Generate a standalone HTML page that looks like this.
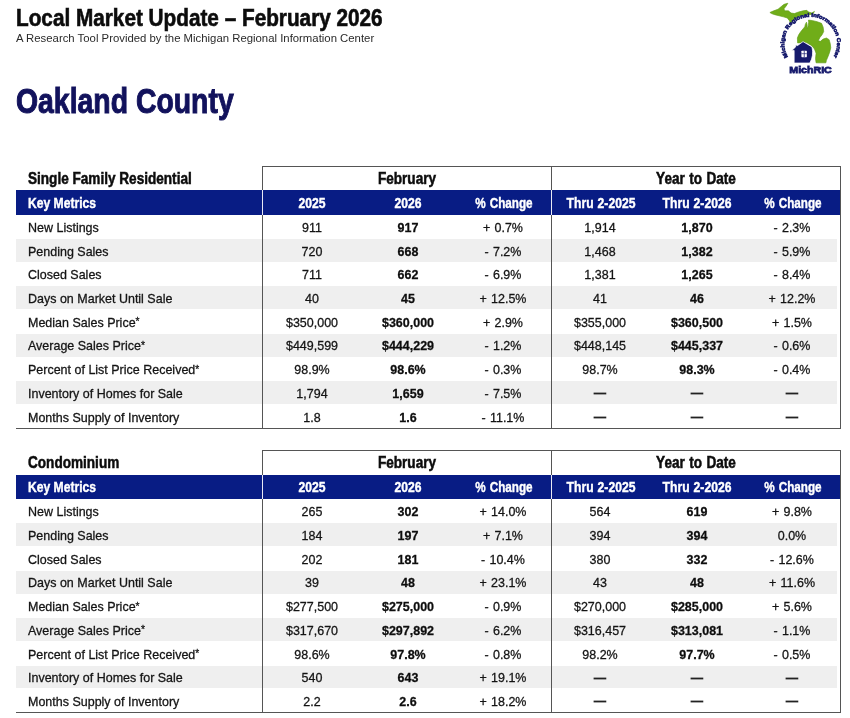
<!DOCTYPE html>
<html lang="en">
<head>
<meta charset="utf-8">
<title>Local Market Update – February 2026 – Oakland County</title>
<style>
html,body{margin:0;padding:0;background:#fff;}
body{width:850px;height:718px;position:relative;overflow:hidden;font-family:"Liberation Sans",Arial,Helvetica,sans-serif;color:#1a1a1a;}
.t{position:absolute;white-space:nowrap;line-height:1;}
.l{transform-origin:0 50%;}
.c{width:200px;text-align:center;transform-origin:50% 50%;word-spacing:.8px;}
.h1{font-weight:bold;font-size:23px;color:#0c0c0c;left:16.3px;top:7.4px;transform:scaleX(.902);-webkit-text-stroke:.6px #0c0c0c;}
.sub{font-size:11.5px;color:#2a2a2a;left:16px;top:32.6px;transform:scaleX(.987);}
.h2{font-weight:bold;font-size:35.6px;color:#12125c;left:16.4px;top:84.1px;transform:scaleX(.798);-webkit-text-stroke:1px #12125c;}
.tt{font-weight:bold;font-size:17.2px;color:#0c0c0c;transform:scaleX(.79);-webkit-text-stroke:.55px #0c0c0c;}
.th{font-weight:bold;font-size:14.2px;color:#fff;transform:scaleX(.855);-webkit-text-stroke:.4px #fff;}
.td{font-size:13.5px;color:#141414;transform:scaleX(.925);-webkit-text-stroke:.3px #141414;}
.b{font-weight:bold;color:#0c0c0c;}
.pc{transform:scaleX(.825);}
.as{font-size:11px;position:relative;top:-1.5px;}
.ds{-webkit-text-stroke:.9px #222;color:#222;transform:scaleX(.88);}
.gr{position:absolute;left:15.5px;width:821.5px;background:#efefef;}
.bl{position:absolute;left:15.5px;width:825px;height:24.3px;background:#081c84;}
.hl{position:absolute;height:1px;background:#555555;}
.vl{position:absolute;width:1px;background:#555555;}
.vw{position:absolute;width:1px;height:24.3px;background:#e8e8f4;}
.logo{position:absolute;left:765px;top:0;width:85px;height:80px;}
</style>
</head>
<body>
<div class="t h1 l">Local Market Update – February 2026</div>
<div class="t sub l">A Research Tool Provided by the Michigan Regional Information Center</div>
<div class="t h2 l">Oakland County</div>
<svg viewBox="0 0 736 718" width="80" height="78" style="position:absolute;left:765px;top:0;width:80px;height:78.04px;overflow:visible">
<defs><path id="arc" d="M 211.7 523.2 A 243 243 0 1 1 628.3 523.2" fill="none"/></defs>
<g fill="#70ad19" stroke="#5f9c16" stroke-width="6" stroke-linejoin="round">
<path d="M45 115 L80 100 L120 85 L150 60 L175 40 L210 30 L195 55 L175 80 L180 100 L215 100 L240 120 L270 125 L310 110 L350 100 L385 95 L400 110 L430 120 L455 105 L440 130 L400 135 L360 140 L320 150 L290 160 L270 180 L250 200 L235 215 L225 190 L205 165 L170 155 L130 145 L90 135 L60 125 Z"/>
<path d="M400 185 L440 190 L480 200 L520 215 L535 250 L540 290 L525 320 L505 345 L490 375 L510 380 L535 360 L565 350 L590 365 L600 400 L605 440 L595 480 L580 520 L565 555 L560 578 L470 578 L465 540 L470 490 L455 450 L430 420 L380 390 L300 395 L298 350 L310 320 L330 290 L355 260 L366 246 L372 222 L382 204 L388 232 L384 264 L398 238 L402 204 Z"/>
</g>
<path d="M246 464 L282 432 L282 416 L298 416 L298 420 L350 383 L432 432 Q452 510 412 580 L268 580 L268 464 Z" fill="#161a6c" stroke="#ffffff" stroke-width="7" stroke-linejoin="round"/>
<rect x="335" y="466" width="50" height="60" fill="#ffffff" rx="5"/>
<rect x="357" y="466" width="7" height="60" fill="#161a6c"/>
<rect x="335" y="492" width="50" height="6" fill="#161a6c"/>
<text font-family="'Liberation Sans',Arial,sans-serif" font-weight="bold" font-size="49" fill="#161a6c" stroke="#161a6c" stroke-width="5.5"><textPath href="#arc" textLength="1026" lengthAdjust="spacingAndGlyphs">Michigan Regional Information Center</textPath></text>
<text x="224" y="668" font-family="'Liberation Sans',Arial,sans-serif" font-weight="bold" font-size="88" fill="#161a6c" stroke="#161a6c" stroke-width="7" textLength="390" lengthAdjust="spacingAndGlyphs">MichRIC</text>
</svg>

<div class="gr" style="top:238.82px;height:22.82px"></div>
<div class="gr" style="top:286.26px;height:22.82px"></div>
<div class="gr" style="top:333.70px;height:22.82px"></div>
<div class="gr" style="top:381.14px;height:22.82px"></div>
<div class="bl" style="top:190.30px"></div>
<div class="hl" style="top:165.50px;left:262px;width:578px"></div>
<div class="hl" style="top:427.58px;left:15.5px;width:824.5px"></div>
<div class="vl" style="left:261.50px;top:165.50px;height:263.08px"></div>
<div class="vl" style="left:550.50px;top:165.50px;height:263.08px"></div>
<div class="vl" style="left:839.50px;top:165.50px;height:263.08px"></div>
<div class="vw" style="left:261.50px;top:190.30px"></div>
<div class="vw" style="left:550.50px;top:190.30px"></div>
<div class="t tt l" style="top:169.60px;left:28px">Single Family Residential</div>
<div class="t tt c" style="top:169.60px;left:306.50px">February</div>
<div class="t tt c" style="top:169.60px;left:595.50px">Year to Date</div>
<div class="t th l" style="top:195.90px;left:28px">Key Metrics</div>
<div class="t th c" style="top:195.90px;left:212.00px">2025</div>
<div class="t th c" style="top:195.90px;left:308.00px">2026</div>
<div class="t th c pc" style="top:195.90px;left:403.60px">% Change</div>
<div class="t th c" style="top:195.90px;left:500.60px">Thru 2-2025</div>
<div class="t th c" style="top:195.90px;left:596.70px">Thru 2-2026</div>
<div class="t th c pc" style="top:195.90px;left:692.80px">% Change</div>
<div class="t td l" style="top:220.80px;left:28px">New Listings</div>
<div class="t td c" style="top:220.80px;left:212.20px">911</div>
<div class="t td c b" style="top:220.80px;left:308.10px">917</div>
<div class="t td c" style="top:220.80px;left:402.90px">+ 0.7%</div>
<div class="t td c" style="top:220.80px;left:500.30px">1,914</div>
<div class="t td c b" style="top:220.80px;left:596.50px">1,870</div>
<div class="t td c" style="top:220.80px;left:692.30px">- 2.3%</div>
<div class="t td l" style="top:244.52px;left:28px">Pending Sales</div>
<div class="t td c" style="top:244.52px;left:212.20px">720</div>
<div class="t td c b" style="top:244.52px;left:308.10px">668</div>
<div class="t td c" style="top:244.52px;left:402.90px">- 7.2%</div>
<div class="t td c" style="top:244.52px;left:500.30px">1,468</div>
<div class="t td c b" style="top:244.52px;left:596.50px">1,382</div>
<div class="t td c" style="top:244.52px;left:692.30px">- 5.9%</div>
<div class="t td l" style="top:268.24px;left:28px">Closed Sales</div>
<div class="t td c" style="top:268.24px;left:212.20px">711</div>
<div class="t td c b" style="top:268.24px;left:308.10px">662</div>
<div class="t td c" style="top:268.24px;left:402.90px">- 6.9%</div>
<div class="t td c" style="top:268.24px;left:500.30px">1,381</div>
<div class="t td c b" style="top:268.24px;left:596.50px">1,265</div>
<div class="t td c" style="top:268.24px;left:692.30px">- 8.4%</div>
<div class="t td l" style="top:291.96px;left:28px">Days on Market Until Sale</div>
<div class="t td c" style="top:291.96px;left:212.20px">40</div>
<div class="t td c b" style="top:291.96px;left:308.10px">45</div>
<div class="t td c" style="top:291.96px;left:402.90px">+ 12.5%</div>
<div class="t td c" style="top:291.96px;left:500.30px">41</div>
<div class="t td c b" style="top:291.96px;left:596.50px">46</div>
<div class="t td c" style="top:291.96px;left:692.30px">+ 12.2%</div>
<div class="t td l" style="top:315.68px;left:28px">Median Sales Price<span class="as">*</span></div>
<div class="t td c" style="top:315.68px;left:212.20px">$350,000</div>
<div class="t td c b" style="top:315.68px;left:308.10px">$360,000</div>
<div class="t td c" style="top:315.68px;left:402.90px">+ 2.9%</div>
<div class="t td c" style="top:315.68px;left:500.30px">$355,000</div>
<div class="t td c b" style="top:315.68px;left:596.50px">$360,500</div>
<div class="t td c" style="top:315.68px;left:692.30px">+ 1.5%</div>
<div class="t td l" style="top:339.40px;left:28px">Average Sales Price<span class="as">*</span></div>
<div class="t td c" style="top:339.40px;left:212.20px">$449,599</div>
<div class="t td c b" style="top:339.40px;left:308.10px">$444,229</div>
<div class="t td c" style="top:339.40px;left:402.90px">- 1.2%</div>
<div class="t td c" style="top:339.40px;left:500.30px">$448,145</div>
<div class="t td c b" style="top:339.40px;left:596.50px">$445,337</div>
<div class="t td c" style="top:339.40px;left:692.30px">- 0.6%</div>
<div class="t td l" style="top:363.12px;left:28px">Percent of List Price Received<span class="as">*</span></div>
<div class="t td c" style="top:363.12px;left:212.20px">98.9%</div>
<div class="t td c b" style="top:363.12px;left:308.10px">98.6%</div>
<div class="t td c" style="top:363.12px;left:402.90px">- 0.3%</div>
<div class="t td c" style="top:363.12px;left:500.30px">98.7%</div>
<div class="t td c b" style="top:363.12px;left:596.50px">98.3%</div>
<div class="t td c" style="top:363.12px;left:692.30px">- 0.4%</div>
<div class="t td l" style="top:386.84px;left:28px">Inventory of Homes for Sale</div>
<div class="t td c" style="top:386.84px;left:212.20px">1,794</div>
<div class="t td c b" style="top:386.84px;left:308.10px">1,659</div>
<div class="t td c" style="top:386.84px;left:402.90px">- 7.5%</div>
<div class="t td c ds" style="top:386.24px;left:500.30px">—</div>
<div class="t td c ds" style="top:386.24px;left:596.50px">—</div>
<div class="t td c ds" style="top:386.24px;left:692.30px">—</div>
<div class="t td l" style="top:410.56px;left:28px">Months Supply of Inventory</div>
<div class="t td c" style="top:410.56px;left:212.20px">1.8</div>
<div class="t td c b" style="top:410.56px;left:308.10px">1.6</div>
<div class="t td c" style="top:410.56px;left:402.90px">- 11.1%</div>
<div class="t td c ds" style="top:409.96px;left:500.30px">—</div>
<div class="t td c ds" style="top:409.96px;left:596.50px">—</div>
<div class="t td c ds" style="top:409.96px;left:692.30px">—</div>
<div class="gr" style="top:523.32px;height:22.82px"></div>
<div class="gr" style="top:570.76px;height:22.82px"></div>
<div class="gr" style="top:618.20px;height:22.82px"></div>
<div class="gr" style="top:665.64px;height:22.82px"></div>
<div class="bl" style="top:474.80px"></div>
<div class="hl" style="top:450.00px;left:262px;width:578px"></div>
<div class="hl" style="top:712.08px;left:15.5px;width:824.5px"></div>
<div class="vl" style="left:261.50px;top:450.00px;height:263.08px"></div>
<div class="vl" style="left:550.50px;top:450.00px;height:263.08px"></div>
<div class="vl" style="left:839.50px;top:450.00px;height:263.08px"></div>
<div class="vw" style="left:261.50px;top:474.80px"></div>
<div class="vw" style="left:550.50px;top:474.80px"></div>
<div class="t tt l" style="top:454.10px;left:28px">Condominium</div>
<div class="t tt c" style="top:454.10px;left:306.50px">February</div>
<div class="t tt c" style="top:454.10px;left:595.50px">Year to Date</div>
<div class="t th l" style="top:480.40px;left:28px">Key Metrics</div>
<div class="t th c" style="top:480.40px;left:212.00px">2025</div>
<div class="t th c" style="top:480.40px;left:308.00px">2026</div>
<div class="t th c pc" style="top:480.40px;left:403.60px">% Change</div>
<div class="t th c" style="top:480.40px;left:500.60px">Thru 2-2025</div>
<div class="t th c" style="top:480.40px;left:596.70px">Thru 2-2026</div>
<div class="t th c pc" style="top:480.40px;left:692.80px">% Change</div>
<div class="t td l" style="top:505.30px;left:28px">New Listings</div>
<div class="t td c" style="top:505.30px;left:212.20px">265</div>
<div class="t td c b" style="top:505.30px;left:308.10px">302</div>
<div class="t td c" style="top:505.30px;left:402.90px">+ 14.0%</div>
<div class="t td c" style="top:505.30px;left:500.30px">564</div>
<div class="t td c b" style="top:505.30px;left:596.50px">619</div>
<div class="t td c" style="top:505.30px;left:692.30px">+ 9.8%</div>
<div class="t td l" style="top:529.02px;left:28px">Pending Sales</div>
<div class="t td c" style="top:529.02px;left:212.20px">184</div>
<div class="t td c b" style="top:529.02px;left:308.10px">197</div>
<div class="t td c" style="top:529.02px;left:402.90px">+ 7.1%</div>
<div class="t td c" style="top:529.02px;left:500.30px">394</div>
<div class="t td c b" style="top:529.02px;left:596.50px">394</div>
<div class="t td c" style="top:529.02px;left:692.30px">0.0%</div>
<div class="t td l" style="top:552.74px;left:28px">Closed Sales</div>
<div class="t td c" style="top:552.74px;left:212.20px">202</div>
<div class="t td c b" style="top:552.74px;left:308.10px">181</div>
<div class="t td c" style="top:552.74px;left:402.90px">- 10.4%</div>
<div class="t td c" style="top:552.74px;left:500.30px">380</div>
<div class="t td c b" style="top:552.74px;left:596.50px">332</div>
<div class="t td c" style="top:552.74px;left:692.30px">- 12.6%</div>
<div class="t td l" style="top:576.46px;left:28px">Days on Market Until Sale</div>
<div class="t td c" style="top:576.46px;left:212.20px">39</div>
<div class="t td c b" style="top:576.46px;left:308.10px">48</div>
<div class="t td c" style="top:576.46px;left:402.90px">+ 23.1%</div>
<div class="t td c" style="top:576.46px;left:500.30px">43</div>
<div class="t td c b" style="top:576.46px;left:596.50px">48</div>
<div class="t td c" style="top:576.46px;left:692.30px">+ 11.6%</div>
<div class="t td l" style="top:600.18px;left:28px">Median Sales Price<span class="as">*</span></div>
<div class="t td c" style="top:600.18px;left:212.20px">$277,500</div>
<div class="t td c b" style="top:600.18px;left:308.10px">$275,000</div>
<div class="t td c" style="top:600.18px;left:402.90px">- 0.9%</div>
<div class="t td c" style="top:600.18px;left:500.30px">$270,000</div>
<div class="t td c b" style="top:600.18px;left:596.50px">$285,000</div>
<div class="t td c" style="top:600.18px;left:692.30px">+ 5.6%</div>
<div class="t td l" style="top:623.90px;left:28px">Average Sales Price<span class="as">*</span></div>
<div class="t td c" style="top:623.90px;left:212.20px">$317,670</div>
<div class="t td c b" style="top:623.90px;left:308.10px">$297,892</div>
<div class="t td c" style="top:623.90px;left:402.90px">- 6.2%</div>
<div class="t td c" style="top:623.90px;left:500.30px">$316,457</div>
<div class="t td c b" style="top:623.90px;left:596.50px">$313,081</div>
<div class="t td c" style="top:623.90px;left:692.30px">- 1.1%</div>
<div class="t td l" style="top:647.62px;left:28px">Percent of List Price Received<span class="as">*</span></div>
<div class="t td c" style="top:647.62px;left:212.20px">98.6%</div>
<div class="t td c b" style="top:647.62px;left:308.10px">97.8%</div>
<div class="t td c" style="top:647.62px;left:402.90px">- 0.8%</div>
<div class="t td c" style="top:647.62px;left:500.30px">98.2%</div>
<div class="t td c b" style="top:647.62px;left:596.50px">97.7%</div>
<div class="t td c" style="top:647.62px;left:692.30px">- 0.5%</div>
<div class="t td l" style="top:671.34px;left:28px">Inventory of Homes for Sale</div>
<div class="t td c" style="top:671.34px;left:212.20px">540</div>
<div class="t td c b" style="top:671.34px;left:308.10px">643</div>
<div class="t td c" style="top:671.34px;left:402.90px">+ 19.1%</div>
<div class="t td c ds" style="top:670.74px;left:500.30px">—</div>
<div class="t td c ds" style="top:670.74px;left:596.50px">—</div>
<div class="t td c ds" style="top:670.74px;left:692.30px">—</div>
<div class="t td l" style="top:695.06px;left:28px">Months Supply of Inventory</div>
<div class="t td c" style="top:695.06px;left:212.20px">2.2</div>
<div class="t td c b" style="top:695.06px;left:308.10px">2.6</div>
<div class="t td c" style="top:695.06px;left:402.90px">+ 18.2%</div>
<div class="t td c ds" style="top:694.46px;left:500.30px">—</div>
<div class="t td c ds" style="top:694.46px;left:596.50px">—</div>
<div class="t td c ds" style="top:694.46px;left:692.30px">—</div>
</body>
</html>
